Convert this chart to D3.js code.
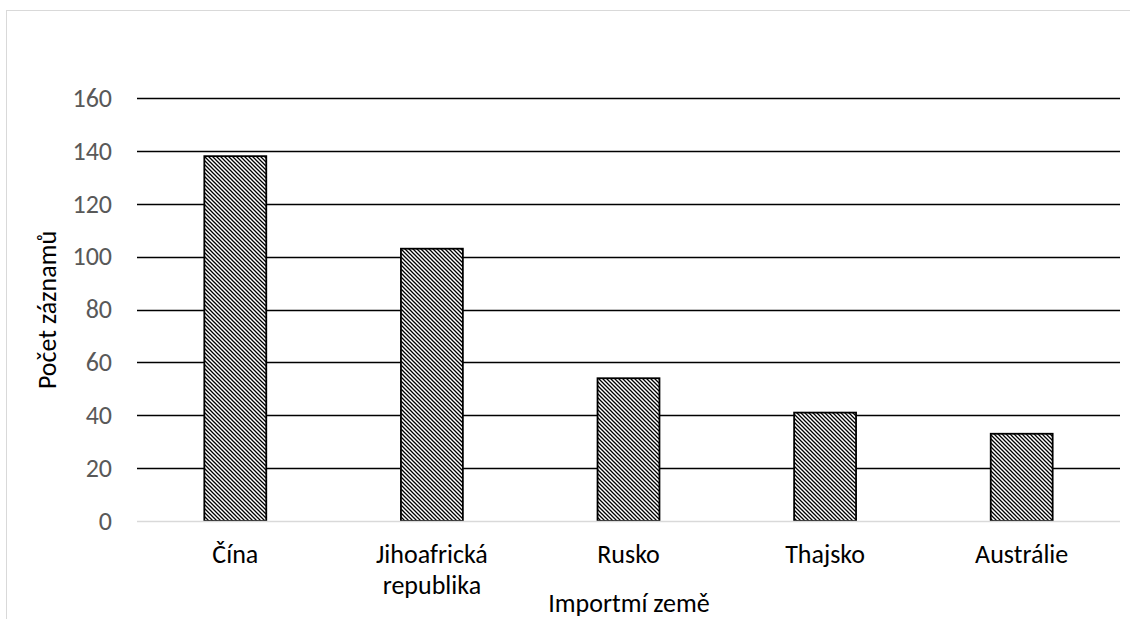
<!DOCTYPE html>
<html>
<head>
<meta charset="utf-8">
<script src="https://cdn.jsdelivr.net/npm/d3@7"></script>
<style>
  html, body { margin: 0; padding: 0; background: #fff; }
  svg { display: block; }
  text { font-family: Carlito, Lato, "Open Sans", sans-serif; }
</style>
</head>
<body>
<script>
// Import records by country of origin
const categories = ["Čína", "Jihoafrická republika", "Rusko", "Thajsko", "Austrálie"];
const counts = [138, 103, 54, 41, 33];
const yTicks = [0, 20, 40, 60, 80, 100, 120, 140, 160];
const yTitle = "Počet záznamů";
const xTitle = "Importmí země";

const W = 1130, H = 619;
const FONT = "Carlito, Lato, 'Open Sans', sans-serif";
const FS = 26;
const margin = { left: 137, right: 10 };

const svg = d3.select("body").append("svg")
  .attr("width", W).attr("height", H);

// diagonal hatch fill for the bars
const defs = svg.append("defs");
const pat = defs.append("pattern")
  .attr("id", "hatch")
  .attr("patternUnits", "userSpaceOnUse")
  .attr("width", 4).attr("height", 4);
pat.append("rect").attr("width", 4).attr("height", 4).attr("fill", "#fff");
pat.append("path")
  .attr("d", "M-1,-1 L5,5 M-1,3 L1,5 M3,-1 L5,1")
  .attr("stroke", "#000").attr("stroke-width", 1.3);

// chart area frame
svg.append("rect")
  .attr("x", 6.5).attr("y", 10.5)
  .attr("width", W + 10).attr("height", H + 10)
  .attr("fill", "none").attr("stroke", "#d9d9d9").attr("stroke-width", 1);

const x = d3.scaleBand()
  .domain(categories)
  .range([margin.left, W - margin.right])
  .paddingInner(0.685).paddingOuter(0.3425);

const y = d3.scaleLinear()
  .domain([0, 160])
  .range([521, 98]);

// gridlines
svg.append("g")
  .selectAll("line")
  .data(yTicks.filter(d => d > 0))
  .join("line")
  .attr("x1", margin.left).attr("x2", W - margin.right)
  .attr("y1", d => Math.round(y(d)) + 0.5).attr("y2", d => Math.round(y(d)) + 0.5)
  .attr("stroke", "#000").attr("stroke-width", 1.6);

// y axis tick labels
const yAxis = d3.axisLeft(y).tickValues(yTicks).tickSize(0).tickPadding(25);
const gy = svg.append("g").attr("transform", `translate(${margin.left},0)`).call(yAxis);
gy.select(".domain").remove();
gy.attr("font-size", null).attr("font-family", null);
gy.selectAll("text")
  .attr("font-size", FS).attr("fill", "#595959")
  .style("font-family", FONT);

// bars
svg.append("g")
  .selectAll("rect")
  .data(categories.map((c, i) => ({ c, v: counts[i] })))
  .join("rect")
  .attr("x", d => x(d.c))
  .attr("y", d => y(d.v))
  .attr("width", x.bandwidth())
  .attr("height", d => y(0) - y(d.v))
  .attr("fill", "url(#hatch)")
  .attr("stroke", "#000").attr("stroke-width", 1.8);

// baseline
svg.append("line")
  .attr("x1", margin.left).attr("x2", W - margin.right)
  .attr("y1", y(0) + 0.5).attr("y2", y(0) + 0.5)
  .attr("stroke", "#d9d9d9").attr("stroke-width", 1.5);

// x axis category labels (wrapped)
const xAxis = d3.axisBottom(x).tickSize(0).tickPadding(0);
const gx = svg.append("g").attr("transform", `translate(0,${y(0)})`).call(xAxis);
gx.select(".domain").remove();
gx.attr("font-size", null).attr("font-family", null);
gx.selectAll("text").each(function (d) {
  const t = d3.select(this);
  t.text(null)
    .attr("font-size", FS).attr("fill", "#000").attr("y", 0).attr("dy", null)
    .style("font-family", FONT);
  d.split(" ").forEach((w, i) => {
    t.append("tspan").attr("x", 0).attr("y", 42 + i * 31).text(w);
  });
});

// axis titles
svg.append("text")
  .attr("transform", `translate(56,310) rotate(-90)`)
  .attr("text-anchor", "middle")
  .attr("font-size", FS).attr("fill", "#000")
  .text(yTitle);

svg.append("text")
  .attr("x", 629)
  .attr("y", 612)
  .attr("text-anchor", "middle")
  .attr("font-size", FS).attr("fill", "#000")
  .text(xTitle);
</script>
</body>
</html>
